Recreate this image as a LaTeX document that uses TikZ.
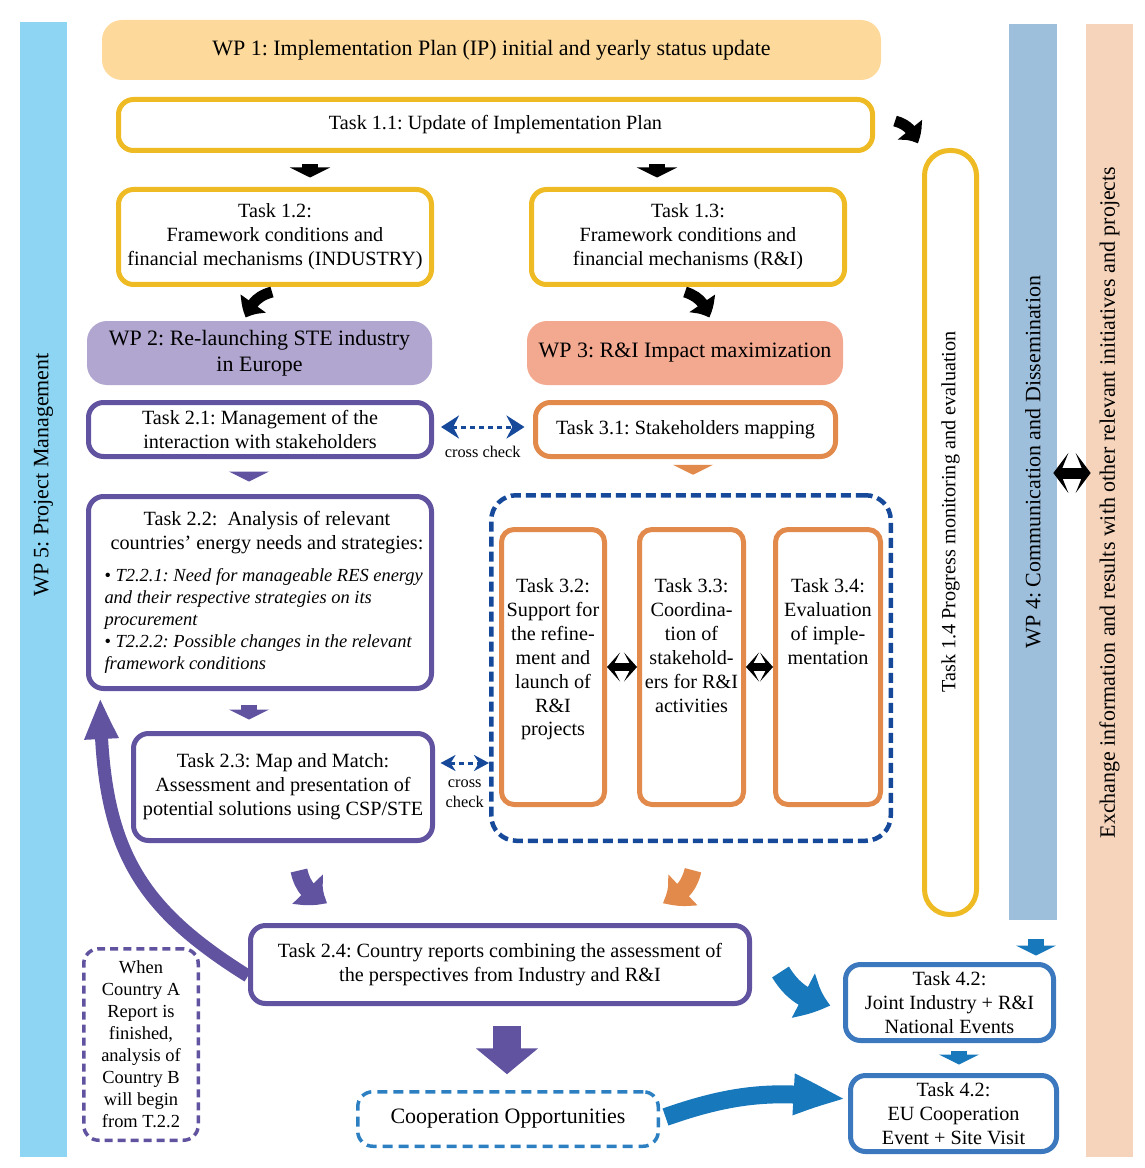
\documentclass[tikz,border=0pt]{standalone}
\usepackage{fontspec}
\setmainfont{Liberation Serif}
\usetikzlibrary{arrows.meta,bending,positioning}

\definecolor{wpone}{HTML}{FDDA9B}
\definecolor{wptwo}{HTML}{B0A6CF}
\definecolor{wpthree}{HTML}{F3A890}
\definecolor{wpfour}{HTML}{9EBFDB}
\definecolor{wpfive}{HTML}{8DD5F2}
\definecolor{xchg}{HTML}{F5D4BB}
\definecolor{ylw}{HTML}{EEBB24}
\definecolor{prp}{HTML}{6153A0}
\definecolor{org}{HTML}{E28A4B}
\definecolor{dblu}{HTML}{16499A}
\definecolor{tblu}{HTML}{3C78BE}
\definecolor{ablu}{HTML}{1878BC}
\definecolor{cblu}{HTML}{2C80C2}

\newcommand{\taskcol}[1]{\parbox[c][5.3cm][t]{2.0cm}{\centering\vspace*{0.88cm}#1}}

\tikzset{
  txt/.style={font=\fontsize{11.5}{13.6}\selectfont, align=center, inner sep=0pt},
  wptxt/.style={font=\fontsize{12.5}{14.7}\selectfont, align=center, inner sep=0pt},
  wpbox/.style={wptxt, rounded corners=0.4cm},
  taskbox/.style={txt, line width=0.1cm, rounded corners=0.3cm, fill=white},
  ybox/.style={taskbox, draw=ylw},
  pbox/.style={taskbox, draw=prp},
  obox/.style={taskbox, draw=org},
  bbox/.style={taskbox, draw=tblu},
  sidebar/.style={inner sep=0pt},
  flowarr/.style={line width=0.32cm, -{Triangle[width=0.8cm,length=0.2cm]}},
  bendarr/.style={line width=0.22cm, -{Triangle[bend,width=0.6cm,length=0.32cm]}},
  fatarr/.style={line width=0.34cm, -{Triangle[bend,width=0.8cm,length=0.5cm]}},
  xcheck/.style={draw=dblu, line width=0.06cm, dash pattern=on 0.1cm off 0.08cm,
    {Stealth[width=0.46cm,length=0.36cm]}-{Stealth[width=0.46cm,length=0.36cm]}},
  twoway/.style={line width=0.16cm, {Stealth[width=0.58cm,length=0.26cm,inset=0.15cm]}-{Stealth[width=0.58cm,length=0.26cm,inset=0.15cm]}},
  smalltxt/.style={font=\fontsize{9.3}{11.3}\selectfont, align=center, inner sep=0pt}
}

\begin{document}
\frenchspacing
\begin{tikzpicture}
\useasboundingbox (0,0) rectangle (22.88,-23.36);

% WP 5 bar on the left
\node[sidebar, fill=wpfive, minimum width=0.94cm, minimum height=22.7cm] (wp5) at (0.87,-11.79) {};
\node[wptxt, rotate=90] (wp5txt) at (0.87,-9.5) {WP 5: Project Management};

% WP 4 and exchange bars on the right
\node[sidebar, fill=wpfour, minimum width=0.96cm, minimum height=17.92cm] (wp4) at (20.66,-9.44) {};
\node[wptxt, rotate=90] (wp4txt) at (20.66,-9.24) {WP 4: Communication and Dissemination};
\node[sidebar, fill=xchg, minimum width=0.94cm, minimum height=22.66cm] (xch) at (22.19,-11.81) {};
\node[wptxt, rotate=90] (xchtxt) at (22.19,-10.05) {Exchange information and results with other relevant initiatives and projects};

% WP 1
\node[wpbox, fill=wpone, minimum width=15.58cm, minimum height=1.2cm] (wp1) at (9.83,-1.0) {WP 1: Implementation Plan (IP) initial and yearly status update};

% Task 1.x
\node[ybox, minimum width=15.08cm, minimum height=1.02cm] (t11) at (9.91,-2.5) {Task 1.1: Update of Implementation Plan};
\node[ybox, minimum width=6.26cm, minimum height=1.9cm] (t12) at (5.5,-4.74) {Task 1.2:\\Framework conditions and\\financial mechanisms (INDUSTRY)};
\node[ybox, minimum width=6.26cm, minimum height=1.9cm] (t13) at (13.76,-4.74) {Task 1.3:\\Framework conditions and\\financial mechanisms (R\&I)};
\node[ybox, minimum width=1.04cm, minimum height=15.28cm, rounded corners=0.5cm] (t14) at (19.01,-10.65) {\rotatebox{90}{\hspace*{0.82cm}Task 1.4 Progress monitoring and evaluation}};

% WP 2 and WP 3
\node[wpbox, fill=wptwo, minimum width=6.9cm, minimum height=1.28cm] (wp2) at (5.19,-7.06) {WP 2: Re-launching STE industry\\in Europe};
\node[wpbox, fill=wpthree, minimum width=6.32cm, minimum height=1.28cm] (wp3) at (13.7,-7.06) {WP 3: R\&I Impact maximization};

% Task 2.x
\node[pbox, minimum width=6.86cm, minimum height=3.84cm] (t22) at (5.2,-11.85) {\hspace*{0.28cm}\parbox{6.5cm}{\centering Task 2.2:~ Analysis of relevant\\countries’ energy needs and strategies:\par
  \vspace{0.2cm}\raggedright\fontsize{10.5}{12.5}\selectfont\itshape
  \textup{•} T2.2.1: Need for manageable RES energy\\and their respective strategies on its\\procurement\\
  \textup{•} T2.2.2: Possible changes in the relevant\\framework conditions}};
\node[pbox, minimum width=6.86cm, minimum height=1.08cm] (t21) at (5.2,-8.59) {Task 2.1: Management of the\\interaction with stakeholders};
\node[pbox, minimum width=5.98cm, minimum height=2.14cm] (t23) at (5.66,-15.74) {Task 2.3: Map and Match:\\Assessment and presentation of\\potential solutions using CSP/STE};
\node[pbox, minimum width=9.98cm, minimum height=1.56cm] (t24) at (10.0,-19.29) {Task 2.4: Country reports combining the assessment of\\the perspectives from Industry and R\&I};

% Task 3.x
\node[obox, minimum width=6.0cm, minimum height=1.08cm] (t31) at (13.71,-8.59) {Task 3.1: Stakeholders mapping};
\node[draw=dblu, line width=0.09cm, dash pattern=on 0.2cm off 0.1cm, rounded corners=0.5cm, minimum width=7.99cm, minimum height=6.91cm] (crit) at (13.82,-13.36) {};
\node[obox, minimum width=2.06cm, minimum height=5.5cm, rounded corners=0.25cm] (t32) at (11.06,-13.34) {\taskcol{Task 3.2:\\Support for\\the refine-\\ment and\\launch of\\R\&I\\projects}};
\node[obox, minimum width=2.08cm, minimum height=5.5cm, rounded corners=0.25cm] (t33) at (13.83,-13.34) {\taskcol{Task 3.3:\\Coordina-\\tion of\\stakehold-\\ers for R\&I\\activities}};
\node[obox, minimum width=2.1cm, minimum height=5.5cm, rounded corners=0.25cm] (t34) at (16.56,-13.34) {\taskcol{Task 3.4:\\Evaluation\\of imple-\\mentation}};

% note, cooperation, task 4.2
\node[txt, font=\fontsize{10.5}{12.5}\selectfont, draw=prp, line width=0.07cm, dash pattern=on 0.16cm off 0.1cm, rounded corners=0.3cm, minimum width=2.29cm, minimum height=3.83cm] (note) at (2.82,-20.89) {When\\Country A\\Report is\\finished,\\analysis of\\Country B\\will begin\\from T.2.2};
\node[wptxt, draw=cblu, line width=0.07cm, dash pattern=on 0.2cm off 0.12cm, rounded corners=0.3cm, minimum width=6.01cm, minimum height=1.09cm] (coop) at (10.16,-22.38) {Cooperation Opportunities};
\node[bbox, minimum width=4.16cm, minimum height=1.52cm] (t42a) at (18.99,-20.05) {Task 4.2:\\Joint Industry + R\&I\\National Events};
\node[bbox, minimum width=4.12cm, minimum height=1.52cm] (t42b) at (19.07,-22.27) {Task 4.2:\\EU Cooperation\\Event + Site Visit};

% arrows out of Task 1.1, 1.2, 1.3
\draw[flowarr, shorten <=0.23cm, shorten >=0.19cm] ([xshift=0.7cm]t12.north |- t11.south) -- ([xshift=0.7cm]t12.north);
\draw[flowarr, shorten <=0.23cm, shorten >=0.19cm] ([xshift=-0.62cm]t13.north |- t11.south) -- ([xshift=-0.62cm]t13.north);
\draw[bendarr] ([xshift=-0.06cm,yshift=-0.1cm]t12.south) to[bend right=30] ([xshift=-0.27cm,yshift=0.06cm]wp2.north);
\draw[bendarr] ([xshift=-0.06cm,yshift=-0.1cm]t13.south) to[bend left=30] ([xshift=0.48cm,yshift=0.06cm]wp3.north);
\draw[bendarr] ([xshift=0.4cm,yshift=0.08cm]t11.east) to[bend left=30] ([xshift=-0.09cm,yshift=0.09cm]t14.north west);

% cross checks
\draw[xcheck] ([xshift=0.14cm,yshift=0.05cm]t21.east) -- node[midway, below=0.36cm, smalltxt] (cc1) {cross check} ([xshift=-0.17cm,yshift=0.05cm]t31.west);
\draw[xcheck, {Stealth[width=0.32cm,length=0.3cm]}-{Stealth[width=0.32cm,length=0.3cm]}] ([xshift=0.11cm,yshift=0.48cm]t23.east) -- node[midway, below=0.3cm, smalltxt] (cc2) {cross\\check} ([yshift=0.48cm]t23.east -| crit.west);

% small downward arrows
\draw[flowarr, prp, shorten <=0.33cm, shorten >=0.25cm] ([xshift=-0.22cm]t21.south) -- ([xshift=-0.22cm]t22.north);
\draw[flowarr, prp, shorten <=0.27cm, shorten >=0.23cm] ([xshift=-0.22cm]t22.south) -- ([xshift=-0.22cm]t22.south |- t23.north);
\draw[flowarr, org, shorten <=0.15cm, shorten >=0.365cm] ([xshift=0.15cm]t31.south) -- ([xshift=0.15cm]t31.south |- crit.north);
\draw[flowarr, ablu, shorten <=0.38cm, shorten >=0.13cm] ([xshift=0.06cm]wp4.south) -- ([xshift=0.06cm]wp4.south |- t42a.north);
\draw[flowarr, ablu, shorten <=0.15cm, shorten >=0.17cm] ([xshift=0.19cm]t42a.south) -- ([xshift=0.19cm]t42a.south |- t42b.north);

% double arrows
\draw[twoway] (t32.east) -- (t33.west);
\draw[twoway] (t33.east) -- (t34.west);
\draw[line width=0.22cm, {Stealth[width=0.8cm,length=0.3cm,inset=0.16cm]}-{Stealth[width=0.8cm,length=0.3cm,inset=0.16cm]}, shorten >=-0.1cm] ([xshift=-0.08cm,yshift=-0.02cm]wp4.east) -- ([yshift=-0.02cm]wp4.east -| xch.west);

% into Task 2.4 and out of it
\draw[fatarr, prp] ([xshift=0.32cm,yshift=-0.55cm]t23.south) to[bend right=30] ([xshift=1.59cm,yshift=0.41cm]t24.north west);
\draw[fatarr, org] ([xshift=0.04cm,yshift=-0.545cm]crit.south) to[bend left=30] ([xshift=-1.79cm,yshift=0.41cm]t24.north east);
\draw[line width=0.56cm, prp, -{Triangle[width=1.22cm,length=0.52cm]}, shorten <=0.39cm, shorten >=0.315cm] ([xshift=0.14cm]t24.south) -- ([xshift=0.14cm]t24.south |- coop.north);
\draw[line width=0.4cm, ablu, -{Triangle[bend,width=0.94cm,length=0.6cm]}] ([xshift=0.57cm,yshift=-0.15cm]t24.east) to[bend right=25] ([xshift=-0.25cm,yshift=-0.05cm]t42a.west);
\draw[line width=0.36cm, ablu, -{Triangle[bend,width=0.72cm,length=1.15cm]}] ([xshift=0.11cm,yshift=0.04cm]coop.east) to[bend left=14] ([yshift=0.27cm]t42b.west);

% loop back to Task 2.2
\draw[line width=0.26cm, prp, -{Triangle[bend,width=0.62cm,length=0.85cm]}] ([yshift=-0.23cm]t24.west) .. controls +(148:2.6) and +(-90:3) .. ([xshift=0.29cm,yshift=-0.13cm]t22.south west);
\end{tikzpicture}
\end{document}
